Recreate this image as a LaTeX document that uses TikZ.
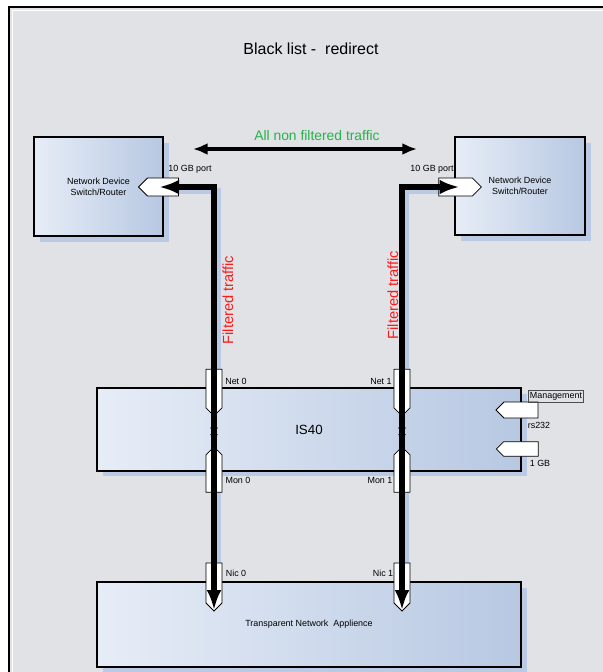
\documentclass[tikz,border=0pt]{standalone}
\usepackage{fontspec}
\setmainfont{Liberation Sans}
\usetikzlibrary{arrows.meta,shapes.symbols,decorations.markings}

\definecolor{framegray}{HTML}{E0E2E6}
\definecolor{boxlight}{HTML}{E7EDF7}
\definecolor{boxdark}{HTML}{B7C8E2}
\definecolor{shadeblue}{HTML}{BACAE5}
\definecolor{okgreen}{HTML}{27B24A}
\definecolor{filtred}{HTML}{FF1A1A}

\tikzset{
  device/.style={draw=black,line width=1.4pt,left color=boxlight,right color=boxdark,
    inner sep=0pt,align=center,font=\fontsize{6.7}{8}\selectfont},
  boxshade/.style={fill=shadeblue},
  port/.style={signal,draw=black,fill=white,line width=0.6pt,inner sep=0pt},
  tag/.style={font=\fontsize{6.7}{8}\selectfont,inner sep=0pt},
  traffic/.style={line width=4.2pt},
  trafficshade/.style={line width=4.2pt,draw=shadeblue},
  bigtip/.tip={Latex[length=15pt,width=11pt]},
  smalltip/.tip={Latex[length=4pt,width=6.5pt]},
  midtips/.style={postaction={decorate},decoration={markings,
    mark=at position 0.22 with {\arrowreversed{smalltip}},
    mark=at position 0.78 with {\arrow{smalltip}}}}
}

\begin{document}
\begin{tikzpicture}[x=0.75pt,y=-0.75pt]
  \useasboundingbox (0,0) rectangle (603,672);
  \clip (0,0) rectangle (603,672);
  % frame
  \draw[line width=1.6pt,fill=framegray] (9,7) rectangle (650,700);
  \draw[white,line width=0.7pt] (12.5,10.5) rectangle (650,700);

  \node[font=\fontsize{12}{14}\selectfont] (title) at (311,49) {Black list -\ \ redirect};

  % shadows
  \fill[boxshade] (40,143) rectangle (169,242);
  \fill[boxshade] (461,143) rectangle (591,241);
  \fill[boxshade] (103,394) rectangle (527,476);
  \fill[boxshade] (103,588) rectangle (527,673);
  \draw[trafficshade] (218,412) |- (180,191);
  \draw[trafficshade] (406,412) |- (440,191);
  \draw[trafficshade] (218,412) -- (218,570);
  \draw[trafficshade] (406,412) -- (406,570);

  % devices
  \node[device,minimum width=96.8pt,minimum height=74.3pt] (ldev) at (98.5,186.5) {Network Device\\Switch/Router};
  \node[device,minimum width=97.5pt,minimum height=73.5pt] (rdev) at (520,186) {Network Device\\Switch/Router};
  \node[device,minimum width=318pt,minimum height=62.3pt,font=\fontsize{10}{12}\selectfont] (is40) at (309,429.5) {IS40};
  \node[device,minimum width=318pt,minimum height=63.8pt] (tna) at (309,624.5) {Transparent Network\ \ Applience};

  % ports
  \node[port,signal to=west,minimum width=30pt,minimum height=13.5pt] (lport) at (163,187) {};
  \node[port,signal to=east,minimum width=32pt,minimum height=13.5pt] (rport) at (455.5,187) {};
  \node[port,signal to=south,minimum width=12pt,minimum height=29pt] (net0) at (214,388.5) {};
  \node[port,signal to=south,minimum width=12pt,minimum height=29pt] (net1) at (402,388.5) {};
  \node[port,signal to=north,minimum width=12pt,minimum height=28pt] (mon0) at (214,473.5) {};
  \node[port,signal to=north,minimum width=12pt,minimum height=28pt] (mon1) at (402,473.5) {};
  \node[port,signal to=south,minimum width=12pt,minimum height=30pt] (nic0) at (214,583) {};
  \node[port,signal to=south,minimum width=12pt,minimum height=30pt] (nic1) at (402,583) {};
  \node[port,signal to=west,minimum width=31.5pt,minimum height=12pt] (rs232) at (521,410) {};
  \node[port,signal to=west,minimum width=31.5pt,minimum height=11pt] (gb1) at (521,449) {};

  % port labels
  \node[tag] (lportlbl) at (190,169) {10 GB port};
  \node[tag] (rportlbl) at (432,169) {10 GB port};
  \node[tag] (net0lbl) at (236,381) {Net 0};
  \node[tag] (net1lbl) at (381,381) {Net 1};
  \node[tag] (mon0lbl) at (238,480) {Mon 0};
  \node[tag] (mon1lbl) at (380,480) {Mon 1};
  \node[tag] (nic0lbl) at (236,573) {Nic 0};
  \node[tag] (nic1lbl) at (383,573) {Nic 1};
  \node[tag,draw=black!70,line width=0.5pt,inner xsep=1.2pt,inner ysep=1.5pt] (mgmt) at (556,396) {Management};
  \node[tag] (rs232lbl) at (539,425) {rs232};
  \node[tag] (gb1lbl) at (540,463) {1 GB};

  % non filtered traffic
  \coordinate (nfl) at (193,149);
  \coordinate (nfr) at (417,149);
  \draw[line width=2.6pt,{Latex[length=11pt,width=9pt]}-{Latex[length=11pt,width=9pt]}] (nfl) -- (nfr);
  \node[okgreen,font=\fontsize{10.4}{12}\selectfont] (nflbl) at (317,136) {All non filtered traffic};

  % filtered traffic
  \draw[traffic,-bigtip,shorten >=-3pt] (net0.south) |- (lport.center);
  \draw[traffic,-bigtip,shorten >=-3pt] (net1.south) |- (rport.center);
  \draw[traffic,midtips] (net0.south) -- (mon0.north);
  \draw[traffic,midtips] (net1.south) -- (mon1.north);
  \draw[traffic,-bigtip,shorten >=1pt] (mon0.north) -- (nic0.south);
  \draw[traffic,-bigtip,shorten >=1pt] (mon1.north) -- (nic1.south);

  \node[filtred,rotate=90,font=\fontsize{11}{13}\selectfont] (ftl) at (228,300) {Filtered traffic};
  \node[filtred,rotate=90,font=\fontsize{11}{13}\selectfont] (ftr) at (393,295) {Filtered traffic};
\end{tikzpicture}
\end{document}
